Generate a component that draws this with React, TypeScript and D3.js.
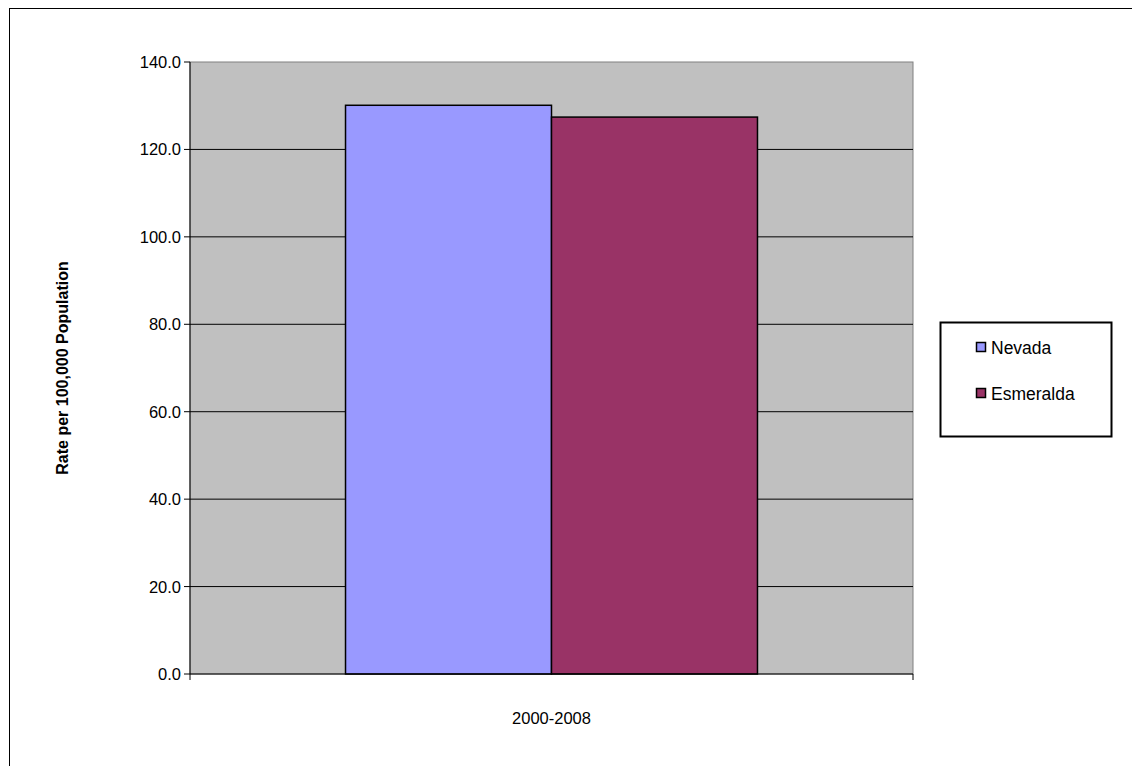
import * as d3 from 'd3';

const categories = ['2000-2008'];
const seriesNames = ['Nevada', 'Esmeralda'];
const seriesValues = [130.1, 127.4];
const seriesColors = ['#9999ff', '#993366'];
const yTicks = [0, 20, 40, 60, 80, 100, 120, 140];

export default function App() {
  const margin = { left: 190, right: 913, top: 62, bottom: 674 };
  const y = d3.scaleLinear().domain([0, 140]).range([margin.bottom, margin.top]);
  const x0 = d3.scaleBand().domain(categories).range([margin.left, margin.right]);
  const x1 = d3.scaleBand().domain(seriesNames).range([0, x0.bandwidth()]).paddingInner(0).paddingOuter(0.755);
  const font = 'Arial, "Liberation Sans", sans-serif';

  return (
    <svg width={1132} height={766} style={{ position: 'absolute', left: 0, top: 0 }} fontFamily={font}>
      <rect x={0} y={0} width={1132} height={766} fill="#fff" />
      <rect x={9.5} y={8.5} width={1140} height={780} fill="none" stroke="#000" />
      <rect x={margin.left} y={margin.top} width={margin.right - margin.left} height={margin.bottom - margin.top} fill="#c0c0c0" stroke="#808080" />
      {yTicks.slice(1, -1).map(t => (
        <line key={t} x1={margin.left} x2={margin.right} y1={y(t)} y2={y(t)} stroke="#000" />
      ))}
      {categories.map(c => seriesNames.map((s, i) => (
        <rect key={c + s} x={x0(c)! + x1(s)!} y={y(seriesValues[i])} width={x1.bandwidth()} height={y(0) - y(seriesValues[i])}
          fill={seriesColors[i]} stroke="#000" strokeWidth={1.5} />
      )))}
      <line x1={margin.left} x2={margin.left} y1={margin.top} y2={margin.bottom} stroke="#000" />
      <line x1={margin.left} x2={margin.right} y1={margin.bottom} y2={margin.bottom} stroke="#000" />
      {yTicks.map(t => (
        <g key={t}>
          <line x1={margin.left - 6} x2={margin.left} y1={y(t)} y2={y(t)} stroke="#000" />
          <text x={margin.left - 9} y={y(t) + 6} textAnchor="end" fontSize={16.5}>{t.toFixed(1)}</text>
        </g>
      ))}
      {[margin.left, margin.right].map((v, i) => (
        <line key={i} x1={v} x2={v} y1={margin.bottom} y2={margin.bottom + 6} stroke="#000" />
      ))}
      {categories.map(c => (
        <text key={c} x={x0(c)! + x0.bandwidth() / 2} y={724} textAnchor="middle" fontSize={16.5}>{c}</text>
      ))}
      <text transform="translate(68,368) rotate(-90)" textAnchor="middle" fontSize={16} fontWeight="bold">Rate per 100,000 Population</text>
      <rect x={940.5} y={322.5} width={171} height={114} fill="#fff" stroke="#000" strokeWidth={2} />
      {seriesNames.map((s, i) => (
        <g key={s}>
          <rect x={976.5} y={342.5 + i * 46} width={9} height={9} fill={seriesColors[i]} stroke="#000" strokeWidth={1.5} />
          <text x={991} y={354 + i * 46} fontSize={17.5}>{s}</text>
        </g>
      ))}
    </svg>
  );
}
